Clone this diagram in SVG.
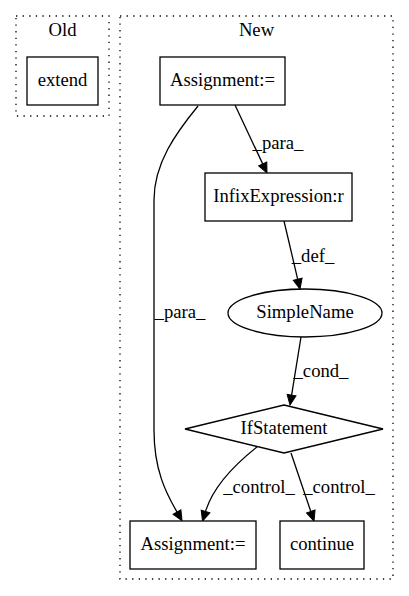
<svg xmlns="http://www.w3.org/2000/svg" width="409" height="596" viewBox="0 0 409 596">
<style>
text{font-family:"Liberation Serif","Times New Roman",serif;font-size:18.67px;fill:#000;text-anchor:middle}
.cl{fill:none;stroke:#000;stroke-width:1.3;stroke-dasharray:1.3,5.3}
.nd{fill:#fff;stroke:#000;stroke-width:1.3}
.ed{fill:none;stroke:#000;stroke-width:1.3;marker-end:url(#ah)}
</style>
<defs>
<marker id="ah" markerUnits="userSpaceOnUse" markerWidth="12" markerHeight="9" refX="0" refY="4.5" orient="auto" overflow="visible">
<path d="M0,0 L10,4.5 L0,9 z" fill="#000" stroke="#000" stroke-width="1"/>
</marker>
</defs>
<rect width="409" height="596" fill="#fff"/>
<g id="cluster_old">
<rect class="cl" x="16" y="16" width="93" height="100"/>
<text x="62.5" y="36">Old</text>
</g>
<g id="cluster_new">
<rect class="cl" x="120" y="16" width="273" height="563"/>
<text x="256.5" y="36">New</text>
</g>
<g id="edges">
<path class="ed" d="M235,105 L262.7,163.9"/>
<path class="ed" d="M284,221 L297.7,279.3"/>
<path class="ed" d="M301,337 L291.6,395.1"/>
<path class="ed" d="M198,106 C176,133 154,163 154,200 L154,430 C154,470 166,493 177,512"/>
<path class="ed" d="M257,447 C238,462 214,484 205.5,511.5"/>
<path class="ed" d="M291,453 L310.8,511.5"/>
<text x="278" y="149">_para_</text>
<text x="313" y="262">_def_</text>
<text x="180" y="318">_para_</text>
<text x="321" y="377">_cond_</text>
<text x="259" y="493">_control_</text>
<text x="339" y="493">_control_</text>
</g>
<g id="extend">
<rect class="nd" x="27" y="57" width="71" height="48"/>
<text x="62.5" y="86">extend</text>
</g>
<g id="assign_top">
<rect class="nd" x="160" y="57" width="125" height="48"/>
<text x="222.5" y="86">Assignment:=</text>
</g>
<g id="infix">
<rect class="nd" x="205" y="173" width="147" height="48"/>
<text x="278.5" y="202">InfixExpression:r</text>
</g>
<g id="simplename">
<ellipse class="nd" cx="305" cy="313" rx="77" ry="24"/>
<text x="305" y="318">SimpleName</text>
</g>
<g id="ifstatement">
<polygon class="nd" points="284,405 383,429 284,453 185,429"/>
<text x="284" y="434">IfStatement</text>
</g>
<g id="assign_bottom">
<rect class="nd" x="130" y="521" width="126" height="48"/>
<text x="193" y="550">Assignment:=</text>
</g>
<g id="continue">
<rect class="nd" x="280" y="521" width="84" height="48"/>
<text x="322" y="550">continue</text>
</g>
</svg>
